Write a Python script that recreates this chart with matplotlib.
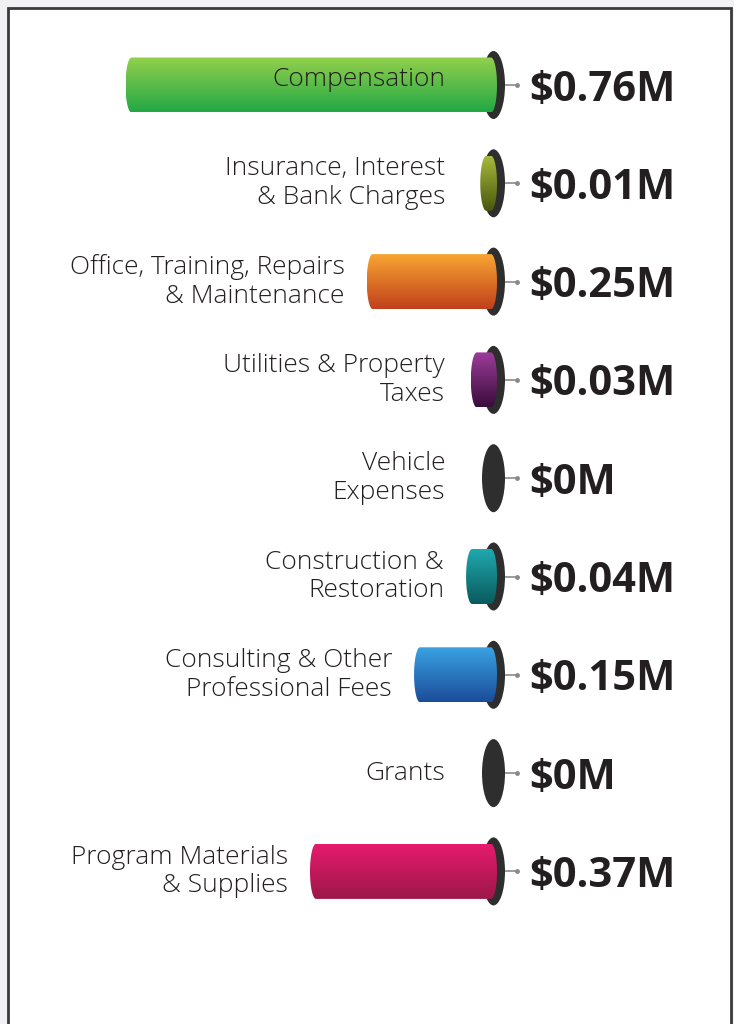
import numpy as np
import matplotlib
matplotlib.use("Agg")
import matplotlib.pyplot as plt
from matplotlib.patches import Ellipse, Polygon, Rectangle
from matplotlib.colors import to_rgb

# ---------------- data ----------------
categories = [
    "Compensation",
    "Insurance, Interest\n& Bank Charges",
    "Office, Training, Repairs\n& Maintenance",
    "Utilities & Property\nTaxes",
    "Vehicle\nExpenses",
    "Construction &\nRestoration",
    "Consulting & Other\nProfessional Fees",
    "Grants",
    "Program Materials\n& Supplies",
]
values = [0.76, 0.01, 0.25, 0.03, 0.0, 0.04, 0.15, 0.0, 0.37]
value_labels = ["$0.76M", "$0.01M", "$0.25M", "$0.03M", "$0M",
                "$0.04M", "$0.15M", "$0M", "$0.37M"]
top_colors = ["#93d04c", "#a8b83c", "#f8a532", "#9c3c9a", "#555555",
              "#1fa9b0", "#3aa2e2", "#555555", "#e61a6e"]
bottom_colors = ["#22a845", "#48580e", "#c0401c", "#3a0c3a", "#333333",
                 "#0a5a5c", "#1b4c9a", "#333333", "#9c1848"]

# ---------------- layout ----------------
W, H = 734, 1024
S = 473.0            # px per $M
X0 = 491.0           # px of value 0
ROW0, DY = 85.0, 98.3

fig = plt.figure(figsize=(W / 100, H / 100), dpi=100, facecolor="#f1f1f3")
fig.patches.append(Rectangle((8 / W, -0.05), 723 / W, 1.05 - 8 / H,
                             transform=fig.transFigure, facecolor="white",
                             edgecolor="#3a3a3a", lw=2.0, zorder=-10))
ax = fig.add_axes([0, 0, 1, 1])
ax.set_facecolor("none")
ax.axis("off")

px = lambda p: p / S   # px length -> data length (x)
py = lambda p: p / DY  # px length -> data length (y)

e = px(6)              # end-cap half width
hh = py(27.5)          # bar half height
cap_w, cap_h = px(23), py(68)
cap_cx = -px(2.5)

label_font = "Open Sans"
value_font = "Open Sans"
LFS = 19

t = np.linspace(-np.pi / 2, np.pi / 2, 60)
for i, (cat, v, lab, c1, c2) in enumerate(zip(categories, values, value_labels,
                                               top_colors, bottom_colors)):
    y = i
    # dark cap
    ax.add_patch(Ellipse((cap_cx, y), cap_w, cap_h, facecolor="#2e2e2e",
                         edgecolor="none", zorder=2))
    left_px_val = v + e  # data x of bar's leftmost edge
    if v > 0:
        lx = v + e * np.cos(t)
        ly = y + hh * np.sin(t)
        rx = -e * np.cos(t[::-1])
        ry = y + hh * np.sin(t[::-1])
        poly = Polygon(np.column_stack([np.r_[lx, rx], np.r_[ly, ry]]),
                       closed=True, facecolor="none", edgecolor="none")
        ax.add_patch(poly)
        a, b = np.array(to_rgb(c1)), np.array(to_rgb(c2))
        f = np.linspace(0, 1, 128)[:, None]
        grad = (a * (1 - f) + b * f)[:, None, :]
        im = ax.imshow(grad, extent=(v + e, -e, y + hh, y - hh), origin="upper",
                       aspect="auto", interpolation="bilinear", zorder=3)
        im.set_clip_path(poly)
    # connector
    ax.plot([-px(14), -px(26)], [y, y], color="#8a8a8a", lw=1.2, zorder=2,
            solid_capstyle="butt")
    ax.plot([-px(26)], [y], "o", color="#8a8a8a", ms=2.5, zorder=2)
    # value label
    ax.text(-px(38), y + py(15.5), lab, ha="left", va="baseline",
            fontsize=30, fontweight="bold", family=value_font, color="#231f20",
            zorder=5)
    # category label
    right = max(px(46), left_px_val + px(22))
    if v > 0.5:
        ax.text(px(46), y - py(5), cat, ha="right", va="center", fontsize=LFS,
                fontweight="light", family=label_font, color="#231f20",
                zorder=5)
    else:
        ax.text(right, y, cat, ha="right", va="center", fontsize=LFS,
                fontweight="light", family=label_font, color="#231f20",
                linespacing=1.2, zorder=5, multialignment="right")

ax.set_xlim(X0 / S, (X0 - W) / S)
ax.set_ylim((H - ROW0) / DY, -ROW0 / DY)

fig.savefig("out.png", dpi=100, facecolor=fig.get_facecolor())
